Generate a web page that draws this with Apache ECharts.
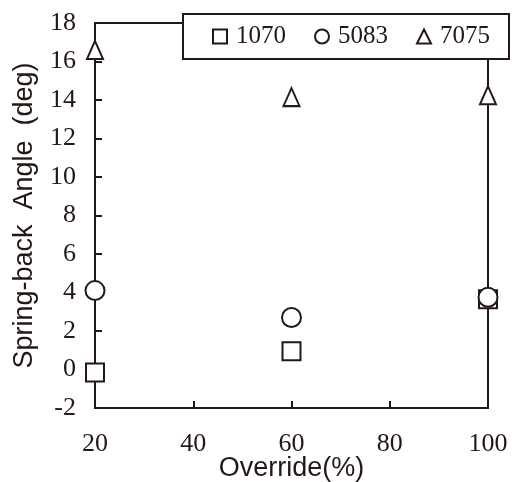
<!DOCTYPE html>
<html><head><meta charset="utf-8">
<script src="https://cdn.jsdelivr.net/npm/echarts@6/dist/echarts.min.js"></script>
<style>html,body{margin:0;padding:0;background:#fff}#c{width:512px;height:482px}</style>
</head><body><div id="c"></div>
<script>
const overrides = [20, 60, 100];
const s1070 = [-0.15, 0.95, 3.65];
const s5083 = [4.1, 2.7, 3.75];
const s7075 = [16.6, 14.15, 14.25];
const seriesNames = ['1070', '5083', '7075'];
const yTicks = [-2, 18, 2];
const xTicks = [20, 100, 20];

const ink = '#231815';
const serif = "'Liberation Serif', 'Times New Roman', serif";
const sans = "'Liberation Sans', Arial, sans-serif";
function pts(vals){ return overrides.map((x,i)=>[x, vals[i]]); }
function ser(name, vals, symbol, size){
  return {name, type:'scatter', data:pts(vals), symbol, symbolSize:size, clip:false,
    itemStyle:{color:'#fff', borderColor:ink, borderWidth:2, opacity:1}};
}
const chart = echarts.init(document.getElementById('c'), null, {renderer:'canvas'});
chart.setOption({
  animation:false,
  backgroundColor:'#fff',
  grid:{left:95, right:24, top:23, bottom:74, containLabel:false, outerBoundsMode:'none',
    show:true, borderColor:ink, borderWidth:2, backgroundColor:'transparent'},
  legend:{
    data:seriesNames, left:183, top:14,
    padding:[10,19,10,29], itemGap:28, itemWidth:14, itemHeight:14,
    backgroundColor:'#fff', borderColor:ink, borderWidth:2, borderRadius:0,
    textStyle:{fontFamily:serif, fontSize:25, color:ink, padding:[0,0,0,4]}
  },
  xAxis:{type:'value', min:xTicks[0], max:xTicks[1], interval:xTicks[2],
    name:'Override(%)', nameLocation:'middle', nameGap:47, nameMoveOverlap:false,
    nameTextStyle:{fontFamily:sans, fontSize:27, color:ink},
    axisLine:{onZero:false, lineStyle:{color:ink, width:2}},
    axisTick:{inside:true, length:7, lineStyle:{color:ink, width:2}},
    axisLabel:{fontFamily:serif, fontSize:26, color:ink, margin:23},
    splitLine:{show:false}},
  yAxis:{type:'value', min:yTicks[0], max:yTicks[1], interval:yTicks[2],
    name:'Spring-back  Angle  (deg)', nameLocation:'middle', nameGap:57, nameMoveOverlap:false,
    nameTextStyle:{fontFamily:sans, fontSize:27, color:ink},
    axisLine:{onZero:false, lineStyle:{color:ink, width:2}},
    axisTick:{inside:true, length:7, lineStyle:{color:ink, width:2}},
    axisLabel:{fontFamily:serif, fontSize:26, color:ink, margin:19},
    splitLine:{show:false}},
  series:[
    ser(seriesNames[0], s1070, 'rect', 18),
    ser(seriesNames[1], s5083, 'circle', 19),
    ser(seriesNames[2], s7075, 'triangle', [16,18])
  ]
});
</script></body></html>
